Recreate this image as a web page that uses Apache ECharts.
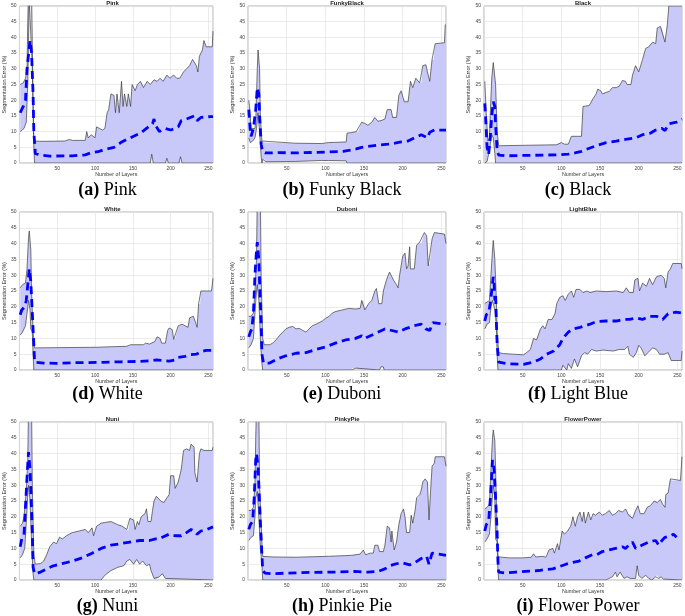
<!DOCTYPE html>
<html>
<head>
<meta charset="utf-8">
<script src="https://cdn.jsdelivr.net/npm/echarts@6/dist/echarts.min.js"></script>
<style>
  html, body { margin: 0; padding: 0; background: #fff; }
  #chart { width: 685px; height: 616px; }
</style>
</head>
<body>
<div id="chart"></div>
<script>
// subplot titles and captions
const panelTitles = ['Pink', 'FunkyBlack', 'Black', 'White', 'Duboni', 'LightBlue', 'Nuni', 'PinkyPie', 'FlowerPower']
const captionLetters = ['(a)', '(b)', '(c)', '(d)', '(e)', '(f)', '(g)', '(h)', '(i)']
const captionNames = ['Pink', 'Funky Black', 'Black', 'White', 'Duboni', 'Light Blue', 'Nuni', 'Pinkie Pie', 'Flower Power']
const xTicks = [50, 100, 150, 200, 250]

// [layer, error %]
const pinkUpper = [[1,25],[5,25.5],[8,27],[10,30],[11,45],[12,55],[16,55],[18,20],[19,7],[30,6.9],[60,7],[66,7.5],[70,7.2],[87,7.2],[89,10],[91,8],[95,9],[100,8],[102,11.5],[106,11],[110,10.5],[113,11],[116,16],[118,17],[121,22],[125,21.5],[127,16],[129,22],[132,16],[135,26],[137,18],[139,22],[142,18],[144,22],[147,18],[149,25],[153,23],[156,25],[160,26],[164,24],[169,26],[173,25],[178,26.5],[182,26],[186,27],[190,26],[195,28],[199,27],[204,28],[208,27],[212,27],[217,29],[221,30],[225,31],[229,33],[234,31],[236,29],[238,34],[242,36],[244,39],[247,37],[255,37],[256,42]]
const pinkLower = [[1,10],[6,11],[9,13],[11,25],[13,52],[15,52],[17,30],[19,5],[20,0],[173,0],[175,2.8],[177,0],[193,0],[195,1.5],[197,0],[211,0],[213,2],[215,0],[256,0]]
const pinkMean = [[1,16],[5,18],[8,20],[10,30],[14,39],[16,35],[18,22],[19,10],[21,3],[28,2.5],[40,2.2],[70,2.3],[87,2.6],[95,3.3],[104,3.6],[112,4.3],[125,5],[134,6.5],[142,7.5],[151,8.5],[160,9.5],[168,11],[176,12.5],[178,14],[180,12],[185,10],[193,11],[200,10.5],[206,11],[210,11.5],[214,13.5],[221,14],[231,15],[235,13.5],[240,14.5],[253,14.8],[256,14.8]]

const funkyUpper = [[1,20],[2,18],[4,11],[6,11],[9,11],[10,13],[12,30],[13,36],[15,30],[16,15],[18,7],[20,6.5],[61,6.3],[95,6.2],[104,6.5],[127,6.7],[128,9.5],[134,9.7],[140,10],[142,9.7],[147,13],[151,12.6],[155,12],[160,13],[164,14.5],[168,13.3],[172,13.5],[177,14],[180,17],[185,17],[187,14.5],[192,14.5],[195,21.5],[198,23],[202,19.5],[207,19.5],[210,26],[213,24],[217,27],[222,25.5],[224,25.5],[226,31],[230,31.3],[232,29],[235,26],[238,33],[240,33],[242,38],[254,38.3],[255,44],[256,44]]
const funkyLower = [[1,8],[3,6.5],[6,7],[9,8],[11,11],[13,16],[15,10],[17,2],[18,0],[19,1.2],[21,1.2],[23,0.4],[61,0.5],[95,0.8],[104,0.8],[127,0.7],[128,0],[256,0]]
const funkyMean = [[1,17],[3,10],[4,8.5],[7,11],[10,17],[12,24],[14,22],[15,15],[17,6],[19,3.5],[22,3.2],[40,3.3],[61,3.2],[104,3.5],[123,3.7],[130,4],[140,4.5],[147,5],[155,5.3],[172,5.8],[181,6],[190,6.3],[198,6.7],[207,7],[215,8],[224,9],[232,8],[235,9.8],[241,10.5],[256,10.5]]

const blackUpper = [[1,26],[3,15],[5,7],[7,8],[8,15],[10,27],[12,32],[15,25],[17,10],[19,5.5],[94,5.8],[96,6.3],[100,6.5],[104,6],[109,6],[113,8.5],[126,8.5],[128,18],[136,18.3],[141,20.5],[145,22],[147,23.5],[151,23],[153,22],[158,22.5],[162,22.8],[166,24],[171,24],[175,24.5],[179,26.3],[183,26],[185,25],[190,25],[192,28],[196,31],[200,29],[205,33],[209,36.5],[213,37],[218,38.5],[222,38],[224,43],[228,43.5],[230,43],[234,38.5],[237,44],[239,50],[256,50]]
const blackLower = [[1,0],[4,0.5],[7,4],[10,9],[12,8],[14,3],[15,0],[256,0]]
const blackMean = [[1,19],[2,15],[3,10],[4,5],[6,2.7],[8,8],[10,15],[12,19.5],[14,18],[15,12],[17,4],[19,2.5],[30,2.3],[51,2.4],[94,2.6],[109,2.8],[119,3.3],[126,3.7],[132,4.3],[145,5.5],[158,6.5],[171,7],[183,7.5],[196,8],[205,9],[215,9.5],[222,10.5],[230,11],[234,10.3],[239,12.5],[249,13],[256,14]]

const whiteUpper = [[1,26],[4,27],[8,27.5],[10,32],[12,42],[13,44],[15,38],[16,25],[18,12],[20,7],[104,7.2],[113,7.3],[142,7.5],[147,8],[164,8],[167,8.5],[172,8.2],[179,9],[182,10.5],[186,10],[188,8.5],[193,8.5],[196,12.5],[198,13.3],[202,12.8],[204,9.7],[206,10],[210,14],[215,14.5],[219,14],[223,13.5],[225,16.5],[230,17],[233,15],[235,13.5],[237,21],[239,21],[240,25],[254,25],[256,29]]
const whiteLower = [[1,11],[4,12],[8,14],[10,18],[12,22],[14,19],[15,13],[17,12],[18,5],[19,0],[256,0]]
const whiteMean = [[1,17.5],[3,19],[7,20],[9,22],[11,27],[13,32],[15,28],[17,18],[19,8],[20,2.5],[32,2.2],[49,2.1],[70,2.3],[104,2.4],[134,2.6],[155,2.7],[172,2.9],[181,3.2],[189,3],[198,2.8],[206,3.2],[210,4],[219,4.3],[225,4.8],[234,5],[240,5.8],[247,6.2],[255,6.2]]

const duboniUpper = [[1,17],[4,17],[7,18],[9,25],[11,35],[12,55],[16,55],[17,30],[19,10],[21,8],[28,8],[32,8.5],[36,9.5],[41,11],[45,12],[49,13],[53,13.5],[58,13.8],[62,13],[66,13.2],[71,12.5],[75,12],[79,13],[83,14],[88,14.5],[92,15],[96,15.5],[100,16.3],[105,17],[109,18],[113,18.5],[122,19],[130,19.5],[139,19.3],[145,19.5],[147,22],[149,22],[151,19],[156,21],[160,22],[164,25],[166,25.8],[169,21],[173,21],[175,25],[179,28.5],[183,31],[188,28.5],[192,27],[194,26],[196,30],[200,36],[203,37],[205,32],[207,33],[209,39],[210,32],[215,32],[218,39.5],[222,40.5],[224,40],[228,43.5],[231,42.5],[233,33],[235,33.5],[238,41.5],[241,43.5],[254,43],[256,40]]
const duboniLower = [[1,7],[4,8],[7,10],[9,18],[11,25],[12,27],[14,22],[16,10],[18,2],[19,0],[133,0],[135,0.6],[140,0.6],[142,0],[170,0],[172,1],[175,1],[176,0],[256,0]]
const duboniMean = [[1,10.5],[3,12],[5,13],[7,18],[9,30],[11,38],[12,40.5],[14,35],[15,28],[17,15],[18,5],[20,2.2],[28,2.2],[38,3.5],[49,4.5],[62,5.3],[75,5.5],[88,6.5],[100,7.3],[113,8.5],[126,9.5],[139,10],[147,10.8],[151,10],[164,11.5],[177,13],[186,12.5],[194,12],[203,13],[215,14],[224,14.5],[230,13],[235,12.5],[239,15],[256,14.5]]

const lightBlueUpper = [[1,21],[4,21.5],[7,22],[9,30],[11,38],[12,41],[14,35],[16,22],[17,12],[19,5.5],[25,5.2],[38,5],[51,4.8],[55,5.5],[60,6.5],[64,10],[68,9.5],[73,13],[76,14],[79,13],[83,16],[88,16],[92,18],[94,21],[98,23],[102,23.5],[105,22],[109,24],[113,25],[116,23],[119,25.5],[124,25.5],[128,24.5],[133,25],[137,24.5],[145,25],[158,24.8],[171,25],[180,24.5],[184,26],[188,24.5],[193,24.5],[195,28.5],[199,29],[201,25],[205,27.5],[210,26.5],[214,29],[218,27],[223,29.5],[229,30],[233,29],[235,26],[238,31],[241,32],[244,33.7],[255,33.7],[256,32]]
const lightBlueLower = [[1,13],[4,14.5],[7,15],[9,20],[11,22],[12,22.5],[14,19],[16,14],[17,5],[18,0],[100,0],[102,1.5],[107,0],[109,2],[113,0.5],[117,3.5],[121,1],[126,4.5],[130,5.5],[134,5],[139,6.5],[145,6],[154,6.3],[167,6],[175,6.5],[182,6.5],[186,7.5],[188,5],[193,4],[197,5.5],[200,7.8],[203,7],[208,4.5],[212,5.5],[218,7],[223,6.5],[227,5],[233,5],[238,5.5],[242,3],[255,3],[256,6]]
const lightBlueMean = [[1,15.5],[3,17.5],[6,18],[8,21],[10,25],[12,29.5],[13,28],[14,22],[15,24],[16,15],[17,8],[19,2.5],[30,2],[51,1.8],[64,2.5],[73,3.5],[81,5],[90,6],[98,8],[102,10],[109,12],[115,13],[124,13.5],[137,14.5],[145,15.3],[158,15.5],[171,15.5],[180,16],[188,16],[197,16.5],[205,16],[214,17],[223,17],[231,16],[238,17.8],[248,18.3],[256,18]]

const nuniUpper = [[1,17],[4,18],[6,20],[9,28],[11,38],[12,55],[16,55],[17,30],[19,8],[21,5],[28,5.2],[32,6],[36,8],[40,10.5],[45,12],[49,11.5],[53,13.5],[57,13],[62,14],[70,15],[79,15.5],[87,16],[91,15],[96,16.5],[98,14],[102,17],[108,18],[113,18.2],[121,18.5],[130,17.5],[136,17],[142,16],[144,15.5],[146,19.5],[151,19],[153,16],[156,18.5],[158,17.5],[161,20],[166,21],[168,22.5],[170,18.5],[174,18.5],[176,22],[178,25],[181,26.5],[187,25],[191,24.5],[195,26],[198,27],[200,33],[204,33],[206,29],[210,31],[214,35],[217,41],[221,41.5],[225,41],[227,43],[231,42],[232,34],[235,31],[238,40],[240,41.5],[244,41],[255,41],[256,42]]
const nuniLower = [[1,7],[4,8],[7,10],[9,18],[11,27],[12,30],[14,25],[16,12],[18,2],[19,0],[108,0],[113,1.5],[121,3],[130,4],[138,4.5],[142,6],[146,6.5],[151,5],[155,6.5],[159,5],[163,6],[168,4.5],[172,5],[174,3],[178,0.5],[180,0],[185,1],[189,2],[193,0.5],[195,0],[256,0]]
const nuniMean = [[1,10.5],[3,13],[6,14],[9,28],[11,37],[12,40.5],[14,35],[15,29],[17,15],[18,4],[20,2],[28,2.5],[36,3.5],[45,4.5],[53,5],[62,5.5],[70,6],[83,7],[96,8.5],[108,10],[121,11],[134,11.5],[146,12],[159,12.5],[172,12.5],[180,13],[185,13],[189,13.5],[198,14.5],[206,14],[214,14],[221,15],[227,16],[231,15.5],[235,14.5],[240,15.5],[248,16],[256,16.8]]

const pinkyUpper = [[1,22],[4,22],[7,23],[9,30],[10,45],[11,55],[14,55],[15,30],[18,12],[19,7.5],[31,7.3],[61,7.2],[104,7.5],[134,7.8],[145,8.2],[149,9.5],[152,8],[158,8.5],[162,8.5],[164,11],[168,11],[170,9],[175,9],[177,11],[180,17],[183,16.5],[185,12],[186,15.5],[189,9.5],[192,12],[195,17.5],[198,21],[201,22.5],[203,20],[205,15],[209,15],[211,20.5],[213,18],[216,22],[218,26],[220,26],[222,27],[224,28.5],[226,31],[229,32],[232,31],[234,19],[236,28],[238,36],[241,37],[242,39],[254,39],[256,36]]
const pinkyLower = [[1,12.5],[4,13.5],[7,14],[9,20],[10,26],[12,28],[14,20],[16,10],[18,5],[19,0],[256,0]]
const pinkyMean = [[1,16],[3,17.5],[6,18.5],[8,26],[10,38],[11,40],[13,36],[14,30],[16,18],[18,8],[19,3],[22,2.2],[31,2],[52,2.2],[82,2.4],[112,2.5],[138,2.7],[155,2.5],[168,2.7],[177,3.5],[183,4.5],[190,5],[198,5.5],[209,4.8],[216,5.5],[224,6.8],[231,7.5],[234,5],[238,8.5],[244,8.3],[256,7.8]]

const flowerUpper = [[1,22.5],[4,23],[7,24],[9,35],[11,45],[12,47.5],[14,44],[15,35],[17,15],[18,8],[19,7.3],[33,7],[50,7],[61,7.2],[64,8.3],[67,7.3],[76,7.5],[80,7.2],[84,9.5],[89,10],[91,8.5],[95,11.5],[97,9.5],[101,15.5],[104,14.5],[108,15.5],[112,17],[115,20],[118,17],[121,20],[124,21.5],[127,18.5],[129,21.5],[131,18],[135,21.5],[138,19],[141,21],[144,20.5],[149,21.5],[153,20.5],[157,21],[162,22],[166,20.5],[170,21],[174,22],[179,21.5],[183,22.5],[187,20.5],[189,21],[192,19.5],[196,22],[199,23.5],[202,21],[207,21],[211,23],[215,23.5],[220,25],[224,24.5],[228,25.5],[231,24],[234,23],[235,27],[238,27.5],[241,32],[243,31.5],[254,31.5],[256,39]]
const flowerLower = [[1,12],[4,13],[7,14.5],[9,20],[11,27],[12,30],[14,26],[15,13],[17,12],[18,3],[19,0],[157,0],[159,0.5],[166,1],[170,2.5],[172,1],[176,2.5],[181,0.5],[185,1],[189,0.5],[196,0.5],[198,4.5],[200,1.5],[204,0.5],[209,1.5],[213,0.5],[217,0],[222,1],[224,1.5],[226,0.5],[229,1],[232,0.3],[234,0],[256,0]]
const flowerMean = [[1,15.5],[3,17.5],[6,18.5],[8,25],[10,33],[11,38],[13,35],[15,26],[17,15],[18,6],[19,2.5],[28,2.2],[41,2.5],[59,2.8],[71,3],[80,3.3],[89,3.5],[97,4.2],[106,5],[114,5.5],[123,6],[131,7],[140,8],[146,8],[153,9],[162,9.5],[170,10],[179,10.5],[183,10],[187,11],[192,12],[196,10],[204,11],[213,12],[222,12.5],[226,11],[230,12.5],[234,13.5],[241,14],[245,14.5],[249,13.5]]

const uppers = [pinkUpper, funkyUpper, blackUpper, whiteUpper, duboniUpper, lightBlueUpper, nuniUpper, pinkyUpper, flowerUpper]
const lowers = [pinkLower, funkyLower, blackLower, whiteLower, duboniLower, lightBlueLower, nuniLower, pinkyLower, flowerLower]
const means = [pinkMean, funkyMean, blackMean, whiteMean, duboniMean, lightBlueMean, nuniMean, pinkyMean, flowerMean]

// subplot boxes in px
const colLeft = [12, 248, 484]
const colWidth = [201, 198, 198]
const rowTop = [6, 212, 422]
const rowHeight = [157, 158, 158]
const captionY = [190, 394, 606]

const chart = echarts.init(document.getElementById('chart'), null, { renderer: 'canvas' })

const grids = []
const xAxes = []
const yAxes = []
const series = []
const graphics = []

panelTitles.forEach((title, i) => {
  const col = i % 3
  const row = Math.floor(i / 3)
  const left = colLeft[col]
  const top = rowTop[row]
  const width = colWidth[col]
  const height = rowHeight[row]

  grids.push({
    left, top, width, height,
    show: true,
    borderColor: '#a0a0a0',
    borderWidth: 0.8,
    backgroundColor: 'transparent'
  })

  xAxes.push({
    type: 'value',
    gridIndex: i,
    min: 0,
    max: 256,
    interval: 50,
    name: 'Number of Layers',
    nameLocation: 'middle',
    nameGap: 9,
    nameTextStyle: { fontSize: 5.3, color: '#333', fontFamily: 'Liberation Sans' },
    axisLine: { show: false },
    axisTick: { show: false },
    axisLabel: {
      fontSize: 5,
      color: '#444',
      margin: 3,
      fontFamily: 'Liberation Sans',
      showMaxLabel: false,
      formatter: (v) => (xTicks.includes(v) ? String(v) : '')
    },
    splitLine: { show: true, lineStyle: { color: '#e3e3e3', width: 0.7 } }
  })

  yAxes.push({
    type: 'value',
    gridIndex: i,
    min: 0,
    max: 50,
    interval: 5,
    name: 'Segmentation Error (%)',
    nameLocation: 'middle',
    nameGap: 9,
    nameRotate: 90,
    nameTextStyle: { fontSize: 5.5, color: '#333', fontFamily: 'Liberation Sans' },
    axisLine: { show: false },
    axisTick: { show: false },
    axisLabel: { fontSize: 5, color: '#444', margin: 3, fontFamily: 'Liberation Sans' },
    splitLine: { show: true, lineStyle: { color: '#e3e3e3', width: 0.7 } }
  })

  const upper = uppers[i]
  const lower = lowers[i]

  // shaded band between the bounds
  series.push({
    type: 'custom',
    xAxisIndex: i,
    yAxisIndex: i,
    silent: true,
    clip: true,
    z: 1,
    data: [[1, 0]],
    renderItem(params, api) {
      const pts = upper.map((p) => api.coord(p))
        .concat(lower.slice().reverse().map((p) => api.coord(p)))
      return {
        type: 'polygon',
        shape: { points: pts },
        style: { fill: '#c9c9f9', stroke: null }
      }
    }
  })

  ;[upper, lower].forEach((edge) => {
    series.push({
      type: 'line',
      xAxisIndex: i,
      yAxisIndex: i,
      data: edge,
      showSymbol: false,
      silent: true,
      z: 2,
      lineStyle: { color: '#3c3c3c', width: 0.7 }
    })
  })

  series.push({
    type: 'line',
    xAxisIndex: i,
    yAxisIndex: i,
    data: means[i],
    showSymbol: false,
    silent: true,
    z: 3,
    lineStyle: { color: '#0000ff', width: 2.8, type: [8, 5], cap: 'butt' }
  })

  const cx = left + width / 2
  graphics.push({
    type: 'text',
    x: cx,
    y: top - 3,
    style: {
      text: title,
      fill: '#222',
      font: 'bold 6px "Liberation Sans"',
      align: 'center',
      verticalAlign: 'middle'
    }
  })

  graphics.push({
    type: 'text',
    x: cx - 5,
    y: captionY[row],
    style: {
      text: '{b|' + captionLetters[i] + '} ' + captionNames[i],
      fill: '#000',
      font: '18px "Liberation Serif"',
      align: 'center',
      verticalAlign: 'middle',
      rich: {
        b: { font: 'bold 18px "Liberation Serif"', fill: '#000' }
      }
    }
  })
})

chart.setOption({
  animation: false,
  grid: grids,
  xAxis: xAxes,
  yAxis: yAxes,
  series,
  graphic: graphics
})
</script>
</body>
</html>
